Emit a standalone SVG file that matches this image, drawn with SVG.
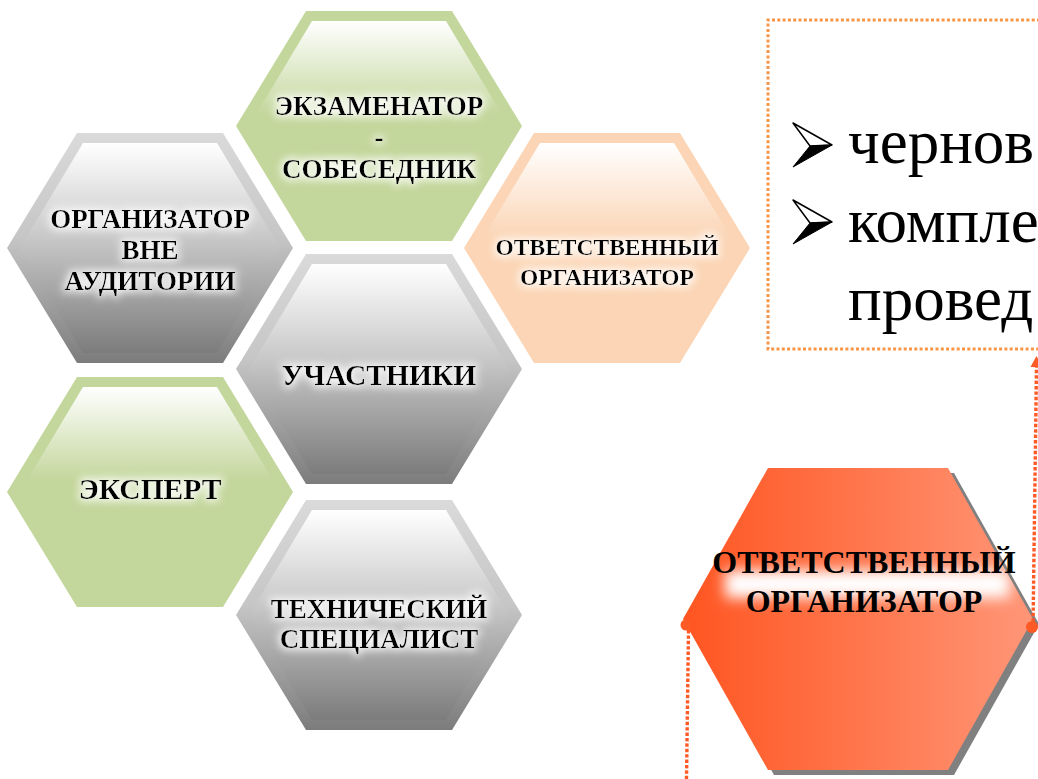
<svg xmlns="http://www.w3.org/2000/svg" xmlns:xlink="http://www.w3.org/1999/xlink" width="1038" height="779" viewBox="0 0 1038 779">
<style>
.lbl{font-family:"Liberation Serif","Times New Roman",serif;font-weight:bold;fill:#000;text-anchor:middle}
.big{font-family:"Liberation Serif","Times New Roman",serif;font-size:63px;fill:#000}
.dotbox{fill:none;stroke:#f79646;stroke-width:3;stroke-dasharray:3 2.3}
.dotred{fill:none;stroke:#fd5a26;stroke-width:3.4;stroke-dasharray:3.4 2}
</style>
<defs>
<path id="hexO" d="M-73,-115 L73,-115 L143,0 L73,115 L-73,115 L-143,0Z"/>
<path id="hexI" d="M-67,-105 L67,-105 L130,0 L67,105 L-67,105 L-130,0Z"/>
<g id="bullet">
<path d="M0,0 L39,22 L17,23Z" fill="#ffffff" stroke="#000" stroke-width="1.5" stroke-linejoin="round"/>
<path d="M17,23 L39,22 L0,44Z" fill="#000" stroke="#000" stroke-width="1" stroke-linejoin="round"/>
</g>
<linearGradient id="gOuter" x1="0" y1="0" x2="0" y2="1">
<stop offset="0" stop-color="#dadada"/>
<stop offset="0.45" stop-color="#c6c6c6"/>
<stop offset="1" stop-color="#7c7c7c"/>
</linearGradient>
<linearGradient id="gInner" x1="0" y1="0" x2="0" y2="1">
<stop offset="0" stop-color="#ffffff"/>
<stop offset="0.45" stop-color="#c8c8c8"/>
<stop offset="1" stop-color="#7c7c7c"/>
</linearGradient>
<linearGradient id="wFade" x1="0" y1="0" x2="0" y2="1">
<stop offset="0" stop-color="#ffffff" stop-opacity="1"/>
<stop offset="0.45" stop-color="#ffffff" stop-opacity="0"/>
</linearGradient>
<linearGradient id="redG" x1="0" y1="0" x2="1" y2="0">
<stop offset="0" stop-color="#ff5521"/>
<stop offset="1" stop-color="#ff9677"/>
</linearGradient>
<filter id="glow" x="-20%" y="-50%" width="140%" height="200%">
<feMorphology in="SourceAlpha" operator="dilate" radius="2" result="d"/>
<feGaussianBlur in="d" stdDeviation="4" result="b"/>
<feFlood flood-color="#ffffff" flood-opacity="0.9"/>
<feComposite in2="b" operator="in" result="w"/>
<feMerge><feMergeNode in="w"/><feMergeNode in="SourceGraphic"/></feMerge>
</filter>
<filter id="blur8" x="-20%" y="-100%" width="140%" height="300%">
<feGaussianBlur stdDeviation="7"/>
</filter>
<clipPath id="redClip">
<path d="M768,468 L948,468 L1033,619 L948,770 L768,770 L683,619Z"/>
</clipPath>
</defs>

<g id="box-note">
<path class="dotbox" d="M1040,20 H768 V349 H1040"/>
<use xlink:href="#bullet" x="793" y="123"/>
<text class="big" x="848" y="163">чернов</text>
<use xlink:href="#bullet" x="793" y="200"/>
<text class="big" x="848" y="242">компле</text>
<text class="big" x="848" y="320">провед</text>
</g>

<g id="node-examiner" transform="translate(379,126)">
<use xlink:href="#hexO" fill="#c3d69b"/>
<use xlink:href="#hexI" fill="url(#wFade)"/>
<text class="lbl" font-size="27" filter="url(#glow)"><tspan x="0" y="-11">ЭКЗАМЕНАТОР</tspan><tspan x="0" y="20">-</tspan><tspan x="0" y="52">СОБЕСЕДНИК</tspan></text>
</g>

<g id="node-outside" transform="translate(150,248)">
<use xlink:href="#hexO" fill="url(#gOuter)"/>
<use xlink:href="#hexI" fill="url(#gInner)"/>
<text class="lbl" font-size="27" filter="url(#glow)"><tspan x="0" y="-20">ОРГАНИЗАТОР</tspan><tspan x="0" y="11">ВНЕ</tspan><tspan x="0" y="42">АУДИТОРИИ</tspan></text>
</g>

<g id="node-responsible-small" transform="translate(607,248)">
<use xlink:href="#hexO" fill="#fbd5b5"/>
<use xlink:href="#hexI" fill="url(#wFade)"/>
<text class="lbl" font-size="23.5" filter="url(#glow)"><tspan x="0" y="7">ОТВЕТСТВЕННЫЙ</tspan><tspan x="0" y="37">ОРГАНИЗАТОР</tspan></text>
</g>

<g id="node-participants" transform="translate(379,369)">
<use xlink:href="#hexO" fill="url(#gOuter)"/>
<use xlink:href="#hexI" fill="url(#gInner)"/>
<text class="lbl" font-size="29.5" filter="url(#glow)" x="0" y="16">УЧАСТНИКИ</text>
</g>

<g id="node-expert" transform="translate(150,492)">
<use xlink:href="#hexO" fill="#c3d69b"/>
<use xlink:href="#hexI" fill="url(#wFade)"/>
<text class="lbl" font-size="29.5" filter="url(#glow)" x="0" y="7">ЭКСПЕРТ</text>
</g>

<g id="node-tech" transform="translate(379,615)">
<use xlink:href="#hexO" fill="url(#gOuter)"/>
<use xlink:href="#hexI" fill="url(#gInner)"/>
<text class="lbl" font-size="27" filter="url(#glow)"><tspan x="0" y="3">ТЕХНИЧЕСКИЙ</tspan><tspan x="0" y="33">СПЕЦИАЛИСТ</tspan></text>
</g>

<g id="node-responsible-main">
<path d="M774,473 L954,473 L1039,624 L954,775 L774,775 L689,624Z" fill="#808080"/>
<path d="M768,468 L948,468 L1033,619 L948,770 L768,770 L683,619Z" fill="url(#redG)"/>
<g clip-path="url(#redClip)">
<rect x="725" y="570" width="285" height="28" fill="#ffffff" filter="url(#blur8)"/>
</g>
<text class="lbl" font-size="32"><tspan x="864" y="573">ОТВЕТСТВЕННЫЙ</tspan><tspan x="864" y="612">ОРГАНИЗАТОР</tspan></text>
</g>

<g id="connectors">
<path class="dotred" d="M1033,627 L1036.5,366"/>
<path d="M1030.5,367 L1036.5,356 L1042.5,367Z" fill="#fd5a26"/>
<path class="dotred" d="M688.5,630 L686.5,779"/>
<circle cx="686" cy="625" r="5.5" fill="#fd5a26"/>
<circle cx="1032" cy="627" r="6" fill="#fd5a26"/>
</g>
</svg>
